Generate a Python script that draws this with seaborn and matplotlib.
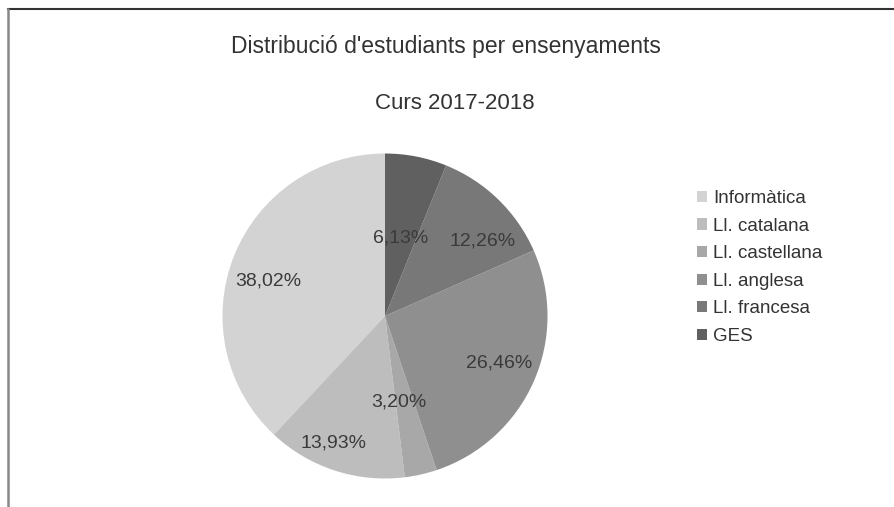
import matplotlib
matplotlib.use("Agg")
import matplotlib.pyplot as plt
import seaborn as sns
import numpy as np
from matplotlib.lines import Line2D

categories = ["Informàtica", "Ll. catalana", "Ll. castellana", "Ll. anglesa", "Ll. francesa", "GES"]
values = [38.02, 13.93, 3.20, 26.46, 12.26, 6.13]
colors = ["#d3d3d3", "#bdbdbd", "#a8a8a8", "#8f8f8f", "#787878", "#606060"]
# label placement: radius fraction and angular offset (deg) from slice middle
label_dist = [0.76, 0.82, 0.51, 0.75, 0.77, 0.51]
label_shift = [3.0, -4.5, -3.0, 3.0, -7.0, 0.5]

title = "Distribució d'estudiants per ensenyaments"
subtitle = "Curs 2017-2018"

sns.set_theme(style="white")
plt.rcParams['font.family'] = ['Liberation Sans', 'DejaVu Sans']

W, H = 894, 507
fig = plt.figure(figsize=(W / 100, H / 100), dpi=100)
fig.patch.set_facecolor("white")

cx, cy, r = 385, 316, 162.5
ax = fig.add_axes([(cx - r) / W, (H - cy - r) / H, 2 * r / W, 2 * r / H])

def fmt(p):
    return f"{p:.2f}".replace(".", ",") + "%"

wedges, texts, autotexts = ax.pie(values, colors=colors, startangle=90, counterclock=True,
                                  autopct=fmt, radius=1.0,
                                  wedgeprops=dict(linewidth=0, edgecolor="none"),
                                  textprops=dict(fontsize=14, color="#3a3a3a"))
for w, t, d, s in zip(wedges, autotexts, label_dist, label_shift):
    ang = np.deg2rad((w.theta1 + w.theta2) / 2 + s)
    t.set_position((d * np.cos(ang), d * np.sin(ang) - 0.012))
    t.set_ha("center")
    t.set_va("center_baseline")

ax.set_xlim(-1, 1)
ax.set_ylim(-1, 1)
ax.set_aspect("equal")
ax.axis("off")

fig.text(446 / W, 1 - 46 / H, title, ha="center", va="center", fontsize=16.5, color="#333333")
fig.text(455 / W, 1 - 104 / H, subtitle, ha="center", va="center", fontsize=16, color="#333333")

handles = [plt.Rectangle((0, 0), 1, 1, facecolor=c, edgecolor="none") for c in colors]
leg = fig.legend(handles, categories, loc="upper left", bbox_to_anchor=(697 / W, 1 - 190 / H),
                 frameon=False, fontsize=13.5, handlelength=0.55, handleheight=0.55,
                 handletextpad=0.32, labelspacing=0.565, borderpad=0, borderaxespad=0)
for t in leg.get_texts():
    t.set_color("#333333")

fig.add_artist(Line2D([7.5 / W, 1], [1 - 9 / H, 1 - 9 / H], color="#333333", linewidth=1.5,
                      transform=fig.transFigure))
fig.add_artist(Line2D([7.5 / W, 7.5 / W], [0, 1 - 9 / H], color="#888888", linewidth=1.8,
                      transform=fig.transFigure))

fig.savefig("out.png", dpi=100, facecolor="white")
